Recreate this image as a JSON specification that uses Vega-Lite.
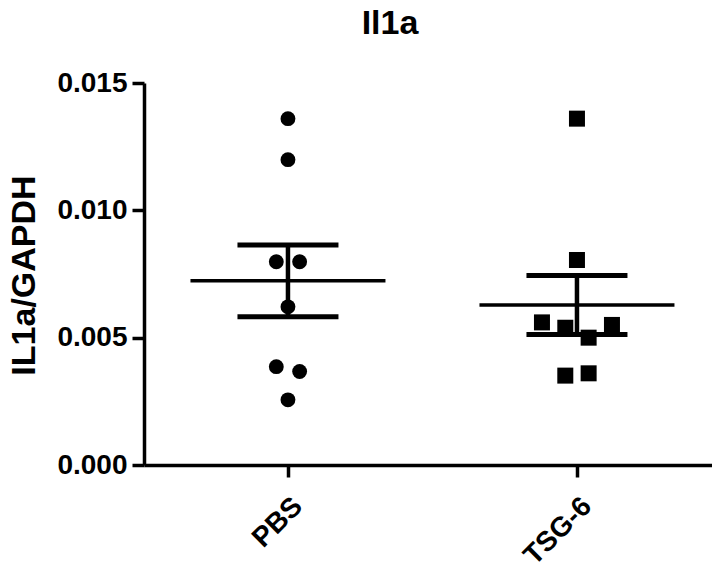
{
  "$schema": "https://vega.github.io/schema/vega-lite/v6.json",
  "autosize": {"type": "none"},
  "padding": {"left": 144, "top": 83, "right": 0, "bottom": 101},
  "width": 568,
  "height": 382,
  "background": "white",
  "config": {"view": {"stroke": null}},
  "title": {
    "text": "Il1a",
    "font": "Liberation Sans",
    "fontWeight": "bold",
    "fontSize": 34,
    "color": "black",
    "anchor": "middle",
    "dx": -38,
    "offset": 28
  },
  "data": {
    "values": [
      {"group": "PBS", "value": 0.01360, "slot": 0},
      {"group": "PBS", "value": 0.01199, "slot": 0},
      {"group": "PBS", "value": 0.00798, "slot": -1},
      {"group": "PBS", "value": 0.00798, "slot": 1},
      {"group": "PBS", "value": 0.00621, "slot": 0},
      {"group": "PBS", "value": 0.00386, "slot": -1},
      {"group": "PBS", "value": 0.00367, "slot": 1},
      {"group": "PBS", "value": 0.00256, "slot": 0},
      {"group": "TSG-6", "value": 0.01360, "slot": 0},
      {"group": "TSG-6", "value": 0.00805, "slot": 0},
      {"group": "TSG-6", "value": 0.00560, "slot": -3},
      {"group": "TSG-6", "value": 0.00539, "slot": -1},
      {"group": "TSG-6", "value": 0.00500, "slot": 1},
      {"group": "TSG-6", "value": 0.00550, "slot": 3},
      {"group": "TSG-6", "value": 0.00351, "slot": -1},
      {"group": "TSG-6", "value": 0.00360, "slot": 1}
    ]
  },
  "encoding": {
    "x": {
      "field": "group",
      "type": "nominal",
      "sort": ["PBS", "TSG-6"],
      "scale": {"type": "point", "padding": 0.4827, "align": 0.516},
      "axis": {
        "title": null,
        "labelAngle": -45,
        "labelAlign": "right",
        "labelBaseline": "top",
        "labelFont": "Liberation Sans",
        "labelFontWeight": "bold",
        "labelFontSize": 28,
        "labelColor": "black",
        "labelPadding": 15,
        "labelDx": -3,
        "tickSize": 12,
        "tickWidth": 3.5,
        "tickColor": "black",
        "domainColor": "black",
        "domainWidth": 3.5,
        "grid": false
      }
    },
    "y": {
      "field": "value",
      "type": "quantitative",
      "scale": {"domain": [0, 0.015], "nice": false, "zero": true},
      "axis": {
        "title": "IL1a/GAPDH",
        "titleFont": "Liberation Sans",
        "titleFontWeight": "bold",
        "titleFontSize": 34,
        "titleColor": "black",
        "titleX": -103,
        "titleY": 192,
        "titleAngle": -90,
        "titleAlign": "center",
        "titleBaseline": "bottom",
        "values": [0, 0.005, 0.01, 0.015],
        "format": ".3f",
        "labelFont": "Liberation Sans",
        "labelFontWeight": "bold",
        "labelFontSize": 28,
        "labelColor": "black",
        "labelPadding": 5,
        "tickSize": 12,
        "tickWidth": 3.5,
        "tickColor": "black",
        "domainColor": "black",
        "domainWidth": 3.5,
        "grid": false
      }
    }
  },
  "layer": [
    {
      "mark": {"type": "point", "filled": true, "opacity": 1, "color": "black"},
      "encoding": {
        "xOffset": {"field": "slot", "type": "quantitative", "scale": {"domain": [-3, 3], "range": [-35, 35]}},
        "shape": {"field": "group", "type": "nominal", "scale": {"domain": ["PBS", "TSG-6"], "range": ["circle", "square"]}, "legend": null},
        "size": {"field": "group", "type": "nominal", "scale": {"domain": ["PBS", "TSG-6"], "range": [220, 256]}, "legend": null}
      }
    },
    {
      "mark": {"type": "tick", "color": "black", "size": 195, "thickness": 3.5, "opacity": 1},
      "encoding": {
        "y": {"aggregate": "mean", "field": "value", "type": "quantitative"}
      }
    },
    {
      "mark": {
        "type": "errorbar",
        "extent": "stderr",
        "color": "black",
        "rule": {"strokeWidth": 4.5, "color": "black"},
        "ticks": {"size": 101, "thickness": 5, "color": "black", "opacity": 1}
      },
      "encoding": {
        "y": {"field": "value", "type": "quantitative", "title": "IL1a/GAPDH"}
      }
    }
  ]
}
